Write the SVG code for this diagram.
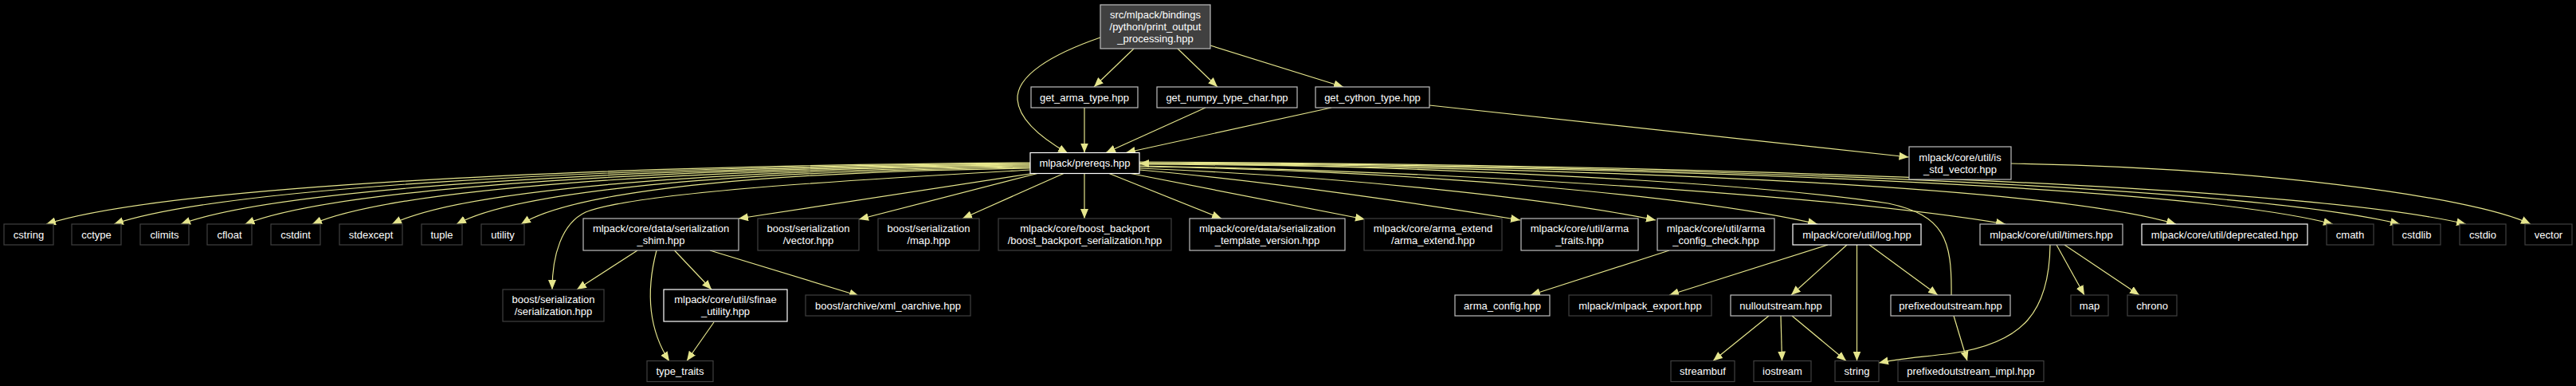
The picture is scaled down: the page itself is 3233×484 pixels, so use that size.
<svg xmlns="http://www.w3.org/2000/svg" width="3233" height="484" viewBox="0 0 3233 484">
<style>
.bg{fill:#000}
.n rect{fill:#000;stroke-width:1.2}
.w rect{stroke:#ffffff}
.l rect{stroke:#bfbfbf}
.d rect{stroke:#404040}
.r rect{fill:#404040;stroke:#bfbfbf}
text{font-family:"Liberation Sans",Arial,sans-serif;font-size:13px;fill:#ffffff;text-anchor:middle}
.e path{fill:none;stroke:#e5e58c;stroke-width:1.2;marker-end:url(#ah)}
</style>
<defs>
<marker id="ah" markerUnits="userSpaceOnUse" markerWidth="12" markerHeight="10" refX="12" refY="5" orient="auto" viewBox="0 0 12 10"><path d="M0,0L12,5L0,10z" fill="#e5e58c"/></marker>
</defs>
<rect class="bg" x="0" y="0" width="3233" height="484"/>
<g id="edges" class="e">
<!-- root -->
<path d="M1381,47 C1320,68 1275,95 1277,125 C1279,150 1305,172 1340,192"/>
<path d="M1423,61 L1373,109"/>
<path d="M1478,61 L1528,109"/>
<path d="M1519,57 L1686,109"/>
<path d="M1361,135 L1361,191.5"/>
<path d="M1513,135 L1388,191.5"/>
<path d="M1671,135 L1413,191.5"/>
<path d="M1794,132 L2395.5,197"/>
<path d="M2524,205 C2820,210 3100,245 3176,281"/>
<!-- prereqs left fan -->
<path d="M1293,204 C700,208 200,236 58,281"/>
<path d="M1293,205 C741,209 275,236 143,281"/>
<path d="M1293,206 C781,210 350,236 227,281"/>
<path d="M1293,207 C820,211 421,236 307.5,281"/>
<path d="M1293,208 C860,212 496,236 392,281"/>
<path d="M1293,209 C909,213 584,236 492,281"/>
<path d="M1293,210 C947,214 656,236 573,281"/>
<path d="M1293,211 C986,215 727,236 654,281"/>
<path d="M1293,213 C1100,224 800,240 735,266 C705,280 693,320 693,363"/>
<path d="M1296,217.5 L927,274"/>
<path d="M1302,217.5 L1078,275"/>
<path d="M1335,217.5 L1208,274"/>
<path d="M1361,217.5 L1361,274"/>
<path d="M1392,217.5 L1533,274"/>
<!-- prereqs right fan -->
<path d="M1419,217.5 L1713,275"/>
<path d="M1430,213 C1600,228 1800,258 1908,276"/>
<path d="M1430,211 C1700,222 1950,250 2078,276"/>
<path d="M1430,209 C1800,214 2150,250 2281,281"/>
<path d="M1430,208 C1900,216 2350,252 2517,281"/>
<path d="M1430,206 C2054,210 2581,236 2731,281"/>
<path d="M1430,205 C2149,209 2756,236 2928,281"/>
<path d="M1430,204 C2189,208 2830,236 3012,281"/>
<path d="M1430,203 C2229,207 2904,236 3095,281"/>
<path d="M2449,370 C2450,300 2440,270 2370,255 C2150,222 1650,205 1430,205"/>
<!-- shim -->
<path d="M800,314 L724,363"/>
<path d="M824,314 C812,360 812,410 840,453"/>
<path d="M846.5,314 L893,363"/>
<path d="M891,314 L1078,371"/>
<path d="M896,404 L862,452.5"/>
<!-- arma config check -->
<path d="M2095,314 L1921,370"/>
<!-- log -->
<path d="M2294,307 L2095,370"/>
<path d="M2318,307 L2248,370"/>
<path d="M2330.5,307 L2330.5,452.5"/>
<path d="M2346,307 L2432,370"/>
<!-- nulloutstream -->
<path d="M2220,396 L2150,452.5"/>
<path d="M2235,396 L2236.5,452.5"/>
<path d="M2249,396 L2317,452.5"/>
<!-- prefixedoutstream -->
<path d="M2452,396 L2469,452.5"/>
<!-- timers -->
<path d="M2573,307 C2572,390 2540,430 2450,443 C2410,448 2380,450 2358,455"/>
<path d="M2581,307 L2616,370"/>
<path d="M2591,307 L2685,370"/>
</g>
<g id="n_root" class="n r"><rect x="1381" y="6" width="138" height="55"/><text x="1450" y="23">src/mlpack/bindings</text><text x="1450" y="38">/python/print_output</text><text x="1450" y="53">_processing.hpp</text></g>
<g id="n_get_arma_type" class="n l"><rect x="1294" y="109" width="134" height="26"/><text x="1361" y="126.5">get_arma_type.hpp</text></g>
<g id="n_get_numpy_type_char" class="n l"><rect x="1452" y="109" width="176" height="26"/><text x="1540" y="126.5">get_numpy_type_char.hpp</text></g>
<g id="n_get_cython_type" class="n l"><rect x="1651" y="109" width="143" height="26"/><text x="1722.5" y="126.5">get_cython_type.hpp</text></g>
<g id="n_prereqs" class="n w"><rect x="1293" y="191.5" width="137" height="26"/><text x="1361.5" y="209">mlpack/prereqs.hpp</text></g>
<g id="n_is_std_vector" class="n l"><rect x="2396" y="184" width="128" height="41"/><text x="2460" y="201.5">mlpack/core/util/is</text><text x="2460" y="216.5">_std_vector.hpp</text></g>
<g id="n_cstring" class="n d"><rect x="5" y="281" width="62" height="26"/><text x="36" y="298.5">cstring</text></g>
<g id="n_cctype" class="n d"><rect x="90" y="281" width="62" height="26"/><text x="121" y="298.5">cctype</text></g>
<g id="n_climits" class="n d"><rect x="176" y="281" width="61" height="26"/><text x="206.5" y="298.5">climits</text></g>
<g id="n_cfloat" class="n d"><rect x="260" y="281" width="56" height="26"/><text x="288" y="298.5">cfloat</text></g>
<g id="n_cstdint" class="n d"><rect x="340" y="281" width="62" height="26"/><text x="371" y="298.5">cstdint</text></g>
<g id="n_stdexcept" class="n d"><rect x="426" y="281" width="79" height="26"/><text x="465.5" y="298.5">stdexcept</text></g>
<g id="n_tuple" class="n d"><rect x="529" y="281" width="51" height="26"/><text x="554.5" y="298.5">tuple</text></g>
<g id="n_utility" class="n d"><rect x="604" y="281" width="54" height="26"/><text x="631" y="298.5">utility</text></g>
<g id="n_serialization_shim" class="n l"><rect x="732" y="274" width="195" height="40"/><text x="829.5" y="291">mlpack/core/data/serialization</text><text x="829.5" y="306">_shim.hpp</text></g>
<g id="n_boost_vector" class="n d"><rect x="951" y="274" width="127" height="40"/><text x="1014.5" y="291">boost/serialization</text><text x="1014.5" y="306">/vector.hpp</text></g>
<g id="n_boost_map" class="n d"><rect x="1102" y="274" width="127" height="40"/><text x="1165.5" y="291">boost/serialization</text><text x="1165.5" y="306">/map.hpp</text></g>
<g id="n_boost_backport" class="n d"><rect x="1253" y="274" width="217" height="40"/><text x="1361.5" y="291">mlpack/core/boost_backport</text><text x="1361.5" y="306">/boost_backport_serialization.hpp</text></g>
<g id="n_template_version" class="n l"><rect x="1493" y="274" width="195" height="40"/><text x="1590.5" y="291">mlpack/core/data/serialization</text><text x="1590.5" y="306">_template_version.hpp</text></g>
<g id="n_arma_extend" class="n d"><rect x="1712" y="274" width="173" height="40"/><text x="1798.5" y="291">mlpack/core/arma_extend</text><text x="1798.5" y="306">/arma_extend.hpp</text></g>
<g id="n_arma_traits" class="n l"><rect x="1909" y="274" width="147" height="40"/><text x="1982.5" y="291">mlpack/core/util/arma</text><text x="1982.5" y="306">_traits.hpp</text></g>
<g id="n_arma_config_check" class="n l"><rect x="2080" y="274" width="147" height="40"/><text x="2153.5" y="291">mlpack/core/util/arma</text><text x="2153.5" y="306">_config_check.hpp</text></g>
<g id="n_log" class="n w"><rect x="2250" y="281" width="161" height="26"/><text x="2330.5" y="298.5">mlpack/core/util/log.hpp</text></g>
<g id="n_timers" class="n l"><rect x="2485" y="281" width="179" height="26"/><text x="2574.5" y="298.5">mlpack/core/util/timers.hpp</text></g>
<g id="n_deprecated" class="n w"><rect x="2688" y="281" width="208" height="26"/><text x="2792" y="298.5">mlpack/core/util/deprecated.hpp</text></g>
<g id="n_cmath" class="n d"><rect x="2920" y="281" width="59" height="26"/><text x="2949.5" y="298.5">cmath</text></g>
<g id="n_cstdlib" class="n d"><rect x="3003" y="281" width="60" height="26"/><text x="3033" y="298.5">cstdlib</text></g>
<g id="n_cstdio" class="n d"><rect x="3087" y="281" width="58" height="26"/><text x="3116" y="298.5">cstdio</text></g>
<g id="n_vector" class="n d"><rect x="3169" y="281" width="59" height="26"/><text x="3198.5" y="298.5">vector</text></g>
<g id="n_boost_serialization" class="n d"><rect x="631" y="363" width="127" height="40"/><text x="694.5" y="380">boost/serialization</text><text x="694.5" y="395">/serialization.hpp</text></g>
<g id="n_sfinae_utility" class="n w"><rect x="833" y="363" width="155" height="40"/><text x="910.5" y="380">mlpack/core/util/sfinae</text><text x="910.5" y="395">_utility.hpp</text></g>
<g id="n_xml_oarchive" class="n d"><rect x="1011" y="370" width="207" height="26"/><text x="1114.5" y="387.5">boost/archive/xml_oarchive.hpp</text></g>
<g id="n_arma_config" class="n l"><rect x="1826" y="370" width="119" height="26"/><text x="1885.5" y="387.5">arma_config.hpp</text></g>
<g id="n_mlpack_export" class="n d"><rect x="1969" y="370" width="179" height="26"/><text x="2058.5" y="387.5">mlpack/mlpack_export.hpp</text></g>
<g id="n_nulloutstream" class="n l"><rect x="2172" y="370" width="126" height="26"/><text x="2235" y="387.5">nulloutstream.hpp</text></g>
<g id="n_prefixedoutstream" class="n l"><rect x="2373" y="370" width="150" height="26"/><text x="2448" y="387.5">prefixedoutstream.hpp</text></g>
<g id="n_map" class="n d"><rect x="2599" y="370" width="47" height="26"/><text x="2622.5" y="387.5">map</text></g>
<g id="n_chrono" class="n d"><rect x="2670" y="370" width="62" height="26"/><text x="2701" y="387.5">chrono</text></g>
<g id="n_type_traits" class="n d"><rect x="812" y="452.5" width="83" height="26"/><text x="853.5" y="470">type_traits</text></g>
<g id="n_streambuf" class="n d"><rect x="2097" y="452.5" width="80" height="26"/><text x="2137" y="470">streambuf</text></g>
<g id="n_iostream" class="n d"><rect x="2201" y="452.5" width="72" height="26"/><text x="2237" y="470">iostream</text></g>
<g id="n_string" class="n d"><rect x="2303" y="452.5" width="55" height="26"/><text x="2330.5" y="470">string</text></g>
<g id="n_prefixedoutstream_impl" class="n d"><rect x="2382" y="452.5" width="183" height="26"/><text x="2473.5" y="470">prefixedoutstream_impl.hpp</text></g>
</svg>
